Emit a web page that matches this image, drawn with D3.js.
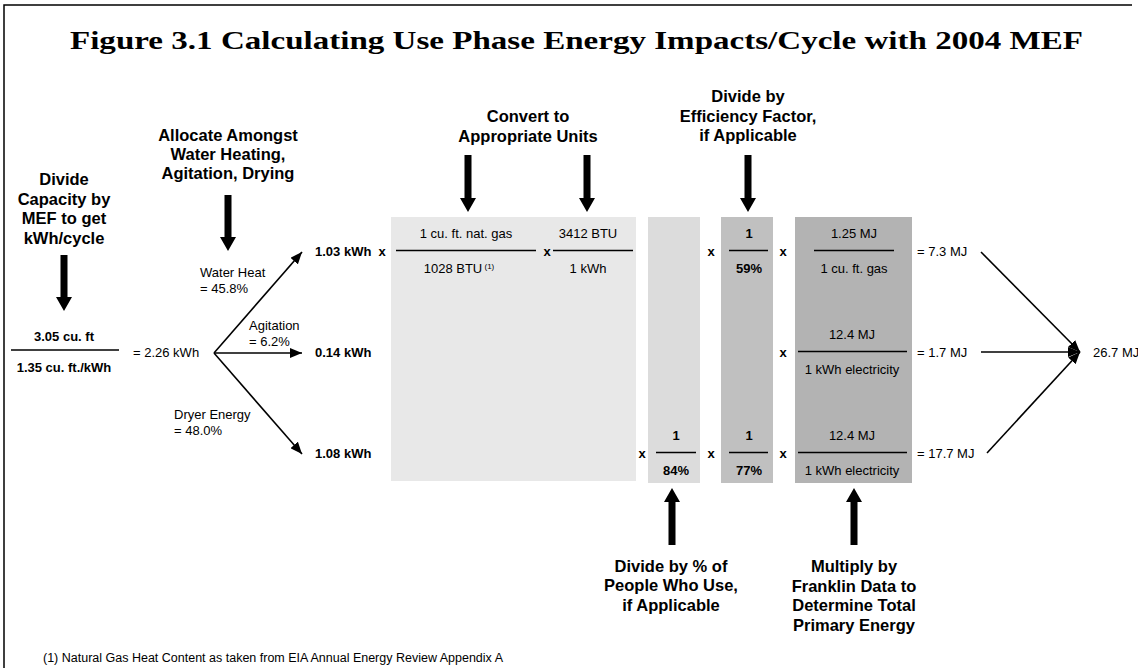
<!DOCTYPE html>
<html>
<head>
<meta charset="utf-8">
<script src="https://cdn.jsdelivr.net/npm/d3@7"></script>
<style>
  body { margin: 0; background: #fff; }
  text { font-family: "Liberation Sans", Arial, sans-serif; fill: #000; }
</style>
</head>
<body>
<svg id="chart"></svg>
<script>
// ---- data ----
const title = 'Figure 3.1 Calculating Use Phase Energy Impacts/Cycle with 2004 MEF';
const footnote = '(1) Natural Gas Heat Content as taken from EIA Annual Energy Review Appendix A';

const capacityCuFt = 3.05;
const mefCuFtPerKwh = 1.35;
const kwhPerCycle = 2.26;

const uses = ['Water Heat', 'Agitation', 'Dryer Energy'];
const useShares = [45.8, 6.2, 48.0];
const useKwh = [1.03, 0.14, 1.08];
const gasConversion = ['1 cu. ft. nat. gas', '1028 BTU', '3412 BTU', '1 kWh'];
const peopleWhoUse = [null, null, 84];
const efficiency = [59, null, 77];
const franklinNum = ['1.25 MJ', '12.4 MJ', '12.4 MJ'];
const franklinDen = ['1 cu. ft. gas', '1 kWh electricity', '1 kWh electricity'];
const resultMJ = [7.3, 1.7, 17.7];
const totalMJ = 26.7;

const notesTop = [
  ['Divide', 'Capacity by', 'MEF to get', 'kWh/cycle'],
  ['Allocate Amongst', 'Water Heating,', 'Agitation, Drying'],
  ['Convert to', 'Appropriate Units'],
  ['Divide by', 'Efficiency Factor,', 'if Applicable']
];
const notesBottom = [
  ['Divide by % of', 'People Who Use,', 'if Applicable'],
  ['Multiply by', 'Franklin Data to', 'Determine Total', 'Primary Energy']
];

// ---- drawing ----
const width = 1138, height = 668;
const svg = d3.select('#chart').attr('width', width).attr('height', height);

const defs = svg.append('defs');
defs.append('marker')
  .attr('id', 'head')
  .attr('markerUnits', 'userSpaceOnUse')
  .attr('viewBox', '0 0 12 10')
  .attr('refX', 12).attr('refY', 5)
  .attr('markerWidth', 12).attr('markerHeight', 10)
  .attr('orient', 'auto')
  .append('path').attr('d', 'M0,0 L12,5 L0,10 Z').attr('fill', '#000');

// frame (only top and left edges are visible)
svg.append('path')
  .attr('d', `M4,${height} L4,5 L1132,5`)
  .attr('fill', 'none').attr('stroke', '#000').attr('stroke-width', 1.5);

// title is set in a wide serif face: stretch Times to the measured width
svg.append('text')
  .attr('x', 70).attr('y', 48.5)
  .style('font-family', '"Liberation Serif", "Times New Roman", serif')
  .attr('font-size', 25).attr('font-weight', 'bold')
  .attr('textLength', 1013).attr('lengthAdjust', 'spacingAndGlyphs')
  .text(title);

function label(x, y, s, opts = {}) {
  return svg.append('text')
    .attr('x', x).attr('y', y)
    .attr('text-anchor', opts.anchor || 'start')
    .attr('font-size', opts.size || 13)
    .attr('font-weight', opts.bold ? 'bold' : 'normal')
    .text(s);
}

function note(cx, y0, lines, step) {
  lines.forEach((l, i) => label(cx, y0 + i * step, l, { anchor: 'middle', size: 16.5, bold: true }));
}

// fat block arrows pointing from y0 to y1
function blockArrow(x, y0, y1) {
  const dir = y1 > y0 ? 1 : -1;
  const hb = y1 - dir * 14;
  const pts = [[x - 3.5, y0], [x + 3.5, y0], [x + 3.5, hb], [x + 8, hb], [x, y1], [x - 8, hb], [x - 3.5, hb]];
  svg.append('path').attr('d', d3.line()(pts) + 'Z').attr('fill', '#000');
}

function lineArrow(x0, y0, x1, y1) {
  svg.append('line')
    .attr('x1', x0).attr('y1', y0).attr('x2', x1).attr('y2', y1)
    .attr('stroke', '#000').attr('stroke-width', 1.6)
    .attr('marker-end', 'url(#head)');
}

function fraction(cx, y, x1, x2, num, den, bold) {
  label(cx, y - 18, num, { anchor: 'middle', bold });
  svg.append('line').attr('x1', x1).attr('x2', x2).attr('y1', y - 5.5).attr('y2', y - 5.5)
    .attr('stroke', '#000').attr('stroke-width', 1.6);
  return label(cx, y + 17, den, { anchor: 'middle', bold });
}

const times = (x, y) => label(x, y, 'x', { anchor: 'middle', bold: true });

// row positions for the three end uses
const rowY = d3.scalePoint().domain(uses).range([256, 458]);

// column boxes
const boxes = [
  { x0: 391, x1: 636, y1: 481, fill: '#e8e8e8' },
  { x0: 648, x1: 700, y1: 483, fill: '#dcdcdc' },
  { x0: 721, x1: 773, y1: 483, fill: '#c0c0c0' },
  { x0: 795, x1: 912, y1: 483, fill: '#b3b3b3' }
];
svg.selectAll('rect.box').data(boxes).join('rect')
  .attr('class', 'box')
  .attr('x', d => d.x0).attr('y', 217)
  .attr('width', d => d.x1 - d.x0).attr('height', d => d.y1 - 217)
  .attr('fill', d => d.fill);

// step notes and their arrows
note(64, 185, notesTop[0], 19.5);
blockArrow(64, 255, 311);
note(228, 141, notesTop[1], 19);
blockArrow(228, 195, 251);
note(528, 122, notesTop[2], 20);
blockArrow(468, 155, 212);
blockArrow(587, 155, 212);
note(748, 102, notesTop[3], 19.5);
blockArrow(748, 155, 212);
note(671, 572, notesBottom[0], 19.3);
blockArrow(672, 545, 488);
note(854, 572, notesBottom[1], 19.5);
blockArrow(854, 545, 488);

// capacity / MEF
const midY = rowY(uses[1]);
label(64, 341, `${capacityCuFt.toFixed(2)} cu. ft`, { anchor: 'middle', bold: true });
svg.append('line').attr('x1', 11).attr('x2', 119).attr('y1', 350).attr('y2', 350)
  .attr('stroke', '#000').attr('stroke-width', 1.6);
label(64, 372, `${mefCuFtPerKwh.toFixed(2)} cu. ft./kWh`, { anchor: 'middle', bold: true });
label(133, midY, `= ${kwhPerCycle.toFixed(2)} kWh`);

// allocation branches
const fork = [214, midY - 4];
uses.forEach((u, i) => {
  const y = rowY(u);
  lineArrow(fork[0], fork[1], 302, y - 4);
  label(315, y, `${useKwh[i].toFixed(2)} kWh`, { bold: true });
});
const shareLabel = [[200, 277], [249, 330], [174, 419]];
uses.forEach((u, i) => {
  label(shareLabel[i][0], shareLabel[i][1], u);
  label(shareLabel[i][0], shareLabel[i][1] + 16, `= ${useShares[i].toFixed(1)}%`);
});

// unit conversion (natural gas row)
const y0 = rowY(uses[0]);
times(382, y0);
fraction(466, y0, 396, 536, gasConversion[0], '', false);
label(459, y0 + 17, gasConversion[1], { anchor: 'middle' })
  .append('tspan').attr('dy', -4).attr('font-size', 8).text(' (1)');
times(547, y0);
fraction(588, y0, 553, 633, gasConversion[2], gasConversion[3], false);

// people who use / efficiency / Franklin factors
uses.forEach((u, i) => {
  const y = rowY(u);
  if (peopleWhoUse[i] != null) {
    times(642, y);
    fraction(676, y, 656, 696, '1', `${peopleWhoUse[i]}%`, true);
  }
  if (efficiency[i] != null) {
    times(711, y);
    fraction(749, y, 729, 768, '1', `${efficiency[i]}%`, true);
  }
  times(783, y);
  const wide = i > 0;
  fraction(wide ? 852 : 854, y, wide ? 798 : 814, wide ? 907 : 894, franklinNum[i], franklinDen[i], false);
  label(917, y, `= ${resultMJ[i]} MJ`);
});

// sum of primary energy
const sumPt = [1080, midY - 5];
const starts = [[981, y0 - 4], [981, midY - 5], [987, rowY(uses[2]) - 5]];
starts.forEach(s => lineArrow(s[0], s[1], sumPt[0], sumPt[1]));
label(1093, midY, `${totalMJ} MJ`);

label(43, 662, footnote, { size: 12.5 });
</script>
</body>
</html>
